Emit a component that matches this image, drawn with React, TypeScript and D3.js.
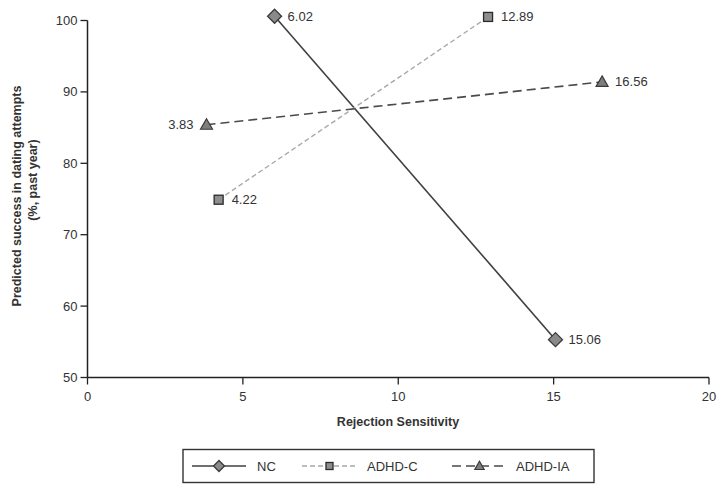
import React from "react";
import * as d3 from "d3";

const seriesNames = ["NC", "ADHD-C", "ADHD-IA"];
const ncX = [6.02, 15.06];
const ncY = [100.6, 55.3];
const adhdCX = [4.22, 12.89];
const adhdCY = [74.9, 100.5];
const adhdIAX = [3.83, 16.56];
const adhdIAY = [85.4, 91.4];
const xTicks = [0, 5, 10, 15, 20];
const yTicks = [50, 60, 70, 80, 90, 100];

const W = 719, H = 485;
const x = d3.scaleLinear().domain([0, 20]).range([87.5, 709]);
const y = d3.scaleLinear().domain([50, 100]).range([377.5, 20.5]);

const styles = [
  { stroke: "#404040", dash: "none", width: 1.6, marker: "diamond" },
  { stroke: "#a8a8a8", dash: "5,3", width: 1.4, marker: "square" },
  { stroke: "#4a4a4a", dash: "9,5", width: 1.6, marker: "triangle" },
];

const series = [
  { name: seriesNames[0], xs: ncX, ys: ncY },
  { name: seriesNames[1], xs: adhdCX, ys: adhdCY },
  { name: seriesNames[2], xs: adhdIAX, ys: adhdIAY },
];

function Marker({ kind, cx, cy, s = 1 }: { kind: string; cx: number; cy: number; s?: number }) {
  if (kind === "diamond") {
    const r = 7 * s;
    return <path d={`M${cx},${cy - r}L${cx + r},${cy}L${cx},${cy + r}L${cx - r},${cy}Z`} fill="#8a8a8a" stroke="#3a3a3a" strokeWidth={1.3} />;
  }
  if (kind === "square") {
    const h = 4.5 * s;
    return <rect x={cx - h} y={cy - h} width={2 * h} height={2 * h} fill="#8e8e8e" stroke="#2a2a2a" strokeWidth={1.3} />;
  }
  const r = 6 * s;
  return <path d={`M${cx},${cy - r}L${cx + r},${cy + r * 0.75}L${cx - r},${cy + r * 0.75}Z`} fill="#7e7e7e" stroke="#3a3a3a" strokeWidth={1.2} />;
}

export default function App() {
  const line = d3.line<[number, number]>().x((d) => x(d[0])).y((d) => y(d[1]));
  const font = "Liberation Sans, Arial, sans-serif";
  const legendItems = [
    { x0: 192, x1: 246, tx: 257 },
    { x0: 302, x1: 357, tx: 367 },
    { x0: 452, x1: 507, tx: 516 },
  ];
  return (
    <svg width={W} height={H} style={{ position: "absolute", left: 0, top: 0 }} fontFamily={font}>
      <rect width={W} height={H} fill="#fff" />
      {/* axes */}
      <line x1={x(0)} x2={x(0)} y1={y(100)} y2={y(50)} stroke="#222" strokeWidth={1.5} />
      <line x1={x(0)} x2={x(20)} y1={y(50)} y2={y(50)} stroke="#222" strokeWidth={1.5} />
      {yTicks.map((t) => (
        <g key={"y" + t}>
          <line x1={x(0) - 7} x2={x(0)} y1={y(t)} y2={y(t)} stroke="#222" strokeWidth={1.3} />
          <text x={x(0) - 10} y={y(t)} dy="0.35em" textAnchor="end" fontSize={13} fill="#333">{t}</text>
        </g>
      ))}
      {xTicks.map((t) => (
        <g key={"x" + t}>
          <line x1={x(t)} x2={x(t)} y1={y(50)} y2={y(50) + 7} stroke="#222" strokeWidth={1.3} />
          <text x={x(t)} y={y(50) + 19} dy="0.35em" textAnchor="middle" fontSize={13} fill="#333">{t}</text>
        </g>
      ))}
      <text x={398} y={422} dy="0.35em" textAnchor="middle" fontSize={12.5} fontWeight="bold" fill="#333">Rejection Sensitivity</text>
      <text transform="translate(17,196) rotate(-90)" dy="0.35em" textAnchor="middle" fontSize={12.5} fontWeight="bold" fill="#333">Predicted success in dating attempts</text>
      <text transform="translate(33,180) rotate(-90)" dy="0.35em" textAnchor="middle" fontSize={12.5} fontWeight="bold" fill="#333">(%, past year)</text>
      {/* lines */}
      {series.map((s, i) => {
        const pts: [number, number][] = s.xs.map((v, j) => [v, s.ys[j]]);
        return (
          <path key={"l" + i} d={line(pts) || ""} fill="none" stroke={styles[i].stroke} strokeWidth={styles[i].width} strokeDasharray={styles[i].dash} />
        );
      })}
      {series.map((s, i) =>
        s.xs.map((v, j) => {
          const left = i === 2 && j === 0;
          return (
            <g key={"m" + i + j}>
              <Marker kind={styles[i].marker} cx={x(v)} cy={y(s.ys[j])} />
              <text x={left ? x(v) - 13 : x(v) + 13} y={y(s.ys[j])} dy="0.35em" textAnchor={left ? "end" : "start"} fontSize={13} fill="#333">{v.toFixed(2)}</text>
            </g>
          );
        })
      )}
      {/* legend */}
      <rect x={183} y={449.5} width={411} height={33} fill="none" stroke="#333" strokeWidth={1.4} />
      {series.map((s, i) => {
        const it = legendItems[i];
        const cy = 466;
        return (
          <g key={"lg" + i}>
            <line x1={it.x0} x2={it.x1} y1={cy} y2={cy} stroke={styles[i].stroke} strokeWidth={styles[i].width} strokeDasharray={i === 1 ? "5,3" : i === 2 ? "9,5" : "none"} />
            <Marker kind={styles[i].marker} cx={(it.x0 + it.x1) / 2} cy={cy} s={0.78} />
            <text x={it.tx} y={cy} dy="0.35em" fontSize={13} fill="#333">{s.name}</text>
          </g>
        );
      })}
    </svg>
  );
}
